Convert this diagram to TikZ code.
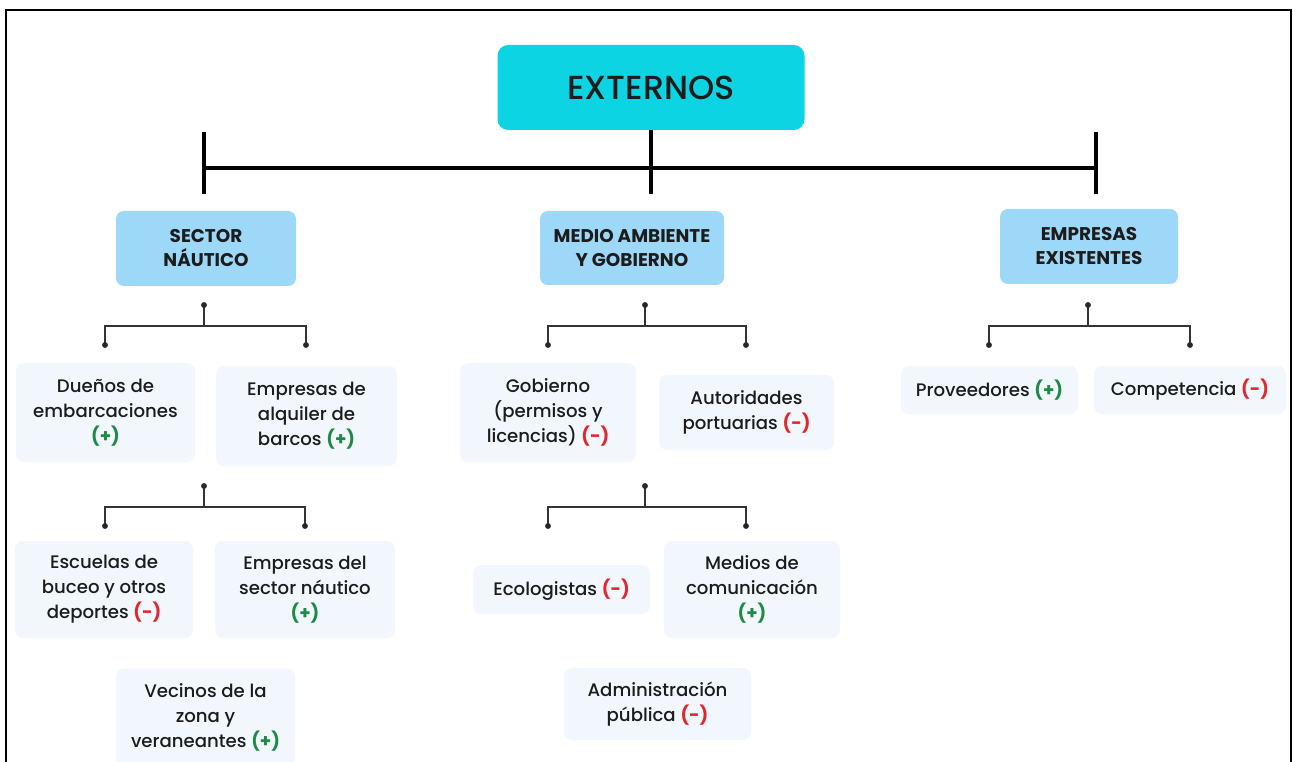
\documentclass[tikz,border=0pt]{standalone}
\usepackage{fontspec}
\setmainfont{Poppins}[UprightFont={* Medium}, BoldFont={* Bold}]
\definecolor{cyanbox}{HTML}{0CD4E2}
\definecolor{headbox}{HTML}{9ED8F8}
\definecolor{leafbox}{HTML}{F1F7FC}
\definecolor{plusgreen}{HTML}{1E8A46}
\definecolor{minusred}{HTML}{E3262B}
\definecolor{inkdark}{HTML}{1C1C1C}
\newcommand{\pos}{\textcolor{plusgreen}{\textbf{(+)}}}
\newcommand{\nega}{\textcolor{minusred}{\textbf{(-)}}}
\tikzset{every picture/.style={line width=0.75pt},
  topbox/.style={fill=cyanbox, rounded corners=8pt, align=center, text=inkdark, font=\fontsize{25}{28}\selectfont},
  headnode/.style={fill=headbox, rounded corners=6pt, align=center, text=inkdark, font=\fontsize{13.8}{18}\selectfont\bfseries},
  leafnode/.style={fill=leafbox, rounded corners=6pt, align=center, text=inkdark, font=\fontsize{13.6}{18.75}\selectfont},
  mainbar/.style={line width=2.6pt, draw=black},
  subbar/.style={line width=1.4pt, draw=black!80},
  tip/.style={fill=black!85}}

\begin{document}
\begin{tikzpicture}[x=0.75pt,y=0.75pt,yscale=-1,xscale=1]
	\useasboundingbox (0,0) rectangle (1293,762);
	\clip (0,0) rectangle (1293,762);

	%Shape: Frame
	\draw [line width=1.6pt] (6,770) -- (6,10) -- (1291,10) -- (1291,770);

	% Root
	\node [topbox, minimum width=230.25pt, minimum height=63.75pt] (ext) at (651,87.5) {EXTERNOS};

	% Main groups
	\node [headnode, minimum width=135pt, minimum height=56.25pt] (nautico) at (206,248.5) {SECTOR\\NÁUTICO};
	\node [headnode, minimum width=138pt, minimum height=55.5pt] (medio) at (632,248) {MEDIO AMBIENTE\\Y GOBIERNO};
	\node [headnode, minimum width=133.5pt, minimum height=56.25pt] (empresas) at (1089,246.5) {EMPRESAS\\EXISTENTES};

	%Shape: main bar
	\coordinate (barL) at (204,168);
	\coordinate (barR) at (1096,168);
	\draw [mainbar] (barL) -- (barR);
	\draw [mainbar] (ext.south) -- ++(0,64);
	\draw [mainbar] (204,132) -- (204,194);
	\draw [mainbar] (1096,132) -- (1096,194);

	% Sector nautico
	\node [leafnode, minimum width=134.25pt, minimum height=74.25pt] (duenos) at (105.5,412.5) {Dueños de\\embarcaciones\\\pos};
	\node [leafnode, minimum width=135.75pt, minimum height=75pt] (alquiler) at (306.5,416) {Empresas de\\alquiler de\\barcos \pos};
	\node [leafnode, minimum width=133.5pt, minimum height=72.75pt] (escuelas) at (104,589.5) {Escuelas de\\buceo y otros\\deportes \nega};
	\node [leafnode, minimum width=135pt, minimum height=72.75pt] (sectorn) at (305,589.5) {Empresas del\\sector náutico\\\pos};
	\node [leafnode, minimum width=134.25pt, minimum height=73.5pt, anchor=north] (vecinos) at (205.5,668) {Vecinos de la\\zona y\\veraneantes \pos};

	% Medio ambiente
	\node [leafnode, minimum width=132pt, minimum height=74.25pt] (gobierno) at (548,412.5) {Gobierno\\(permisos y\\licencias) \nega};
	\node [leafnode, minimum width=131.25pt, minimum height=56.25pt] (autoridades) at (746.5,412.5) {Autoridades\\portuarias \nega};
	\node [leafnode, minimum width=132.75pt, minimum height=36.75pt] (ecologistas) at (561.5,589.5) {Ecologistas \nega};
	\node [leafnode, minimum width=132pt, minimum height=72.75pt] (medios) at (752,589.5) {Medios de\\comunicación\\\pos};
	\node [leafnode, minimum width=140.25pt, minimum height=54pt] (admin) at (657.5,704) {Administración\\pública \nega};

	% Empresas existentes
	\node [leafnode, minimum width=132.75pt, minimum height=36pt] (proveedores) at (989.5,390) {Proveedores \pos};
	\node [leafnode, minimum width=144pt, minimum height=36pt] (competencia) at (1190,390) {Competencia \nega};

	%Shape: sub brackets
	\foreach \bx/\by/\lx/\rx in {204/305/105/306, 204/486/105/305, 645/305/548/746, 645/486/548/746, 1088/305/989/1190} {
		\coordinate (top) at (\bx,\by);
		\coordinate (lft) at (\lx,\by+40);
		\coordinate (rgt) at (\rx,\by+40);
		\draw [subbar] (top) -- (\bx,\by+21);
		\draw [subbar] (lft) -- ++(0,-19) -| (rgt);
		\fill [tip] (top) circle (2.2pt) (lft) circle (2.2pt) (rgt) circle (2.2pt);
	}

\end{tikzpicture}
\end{document}
